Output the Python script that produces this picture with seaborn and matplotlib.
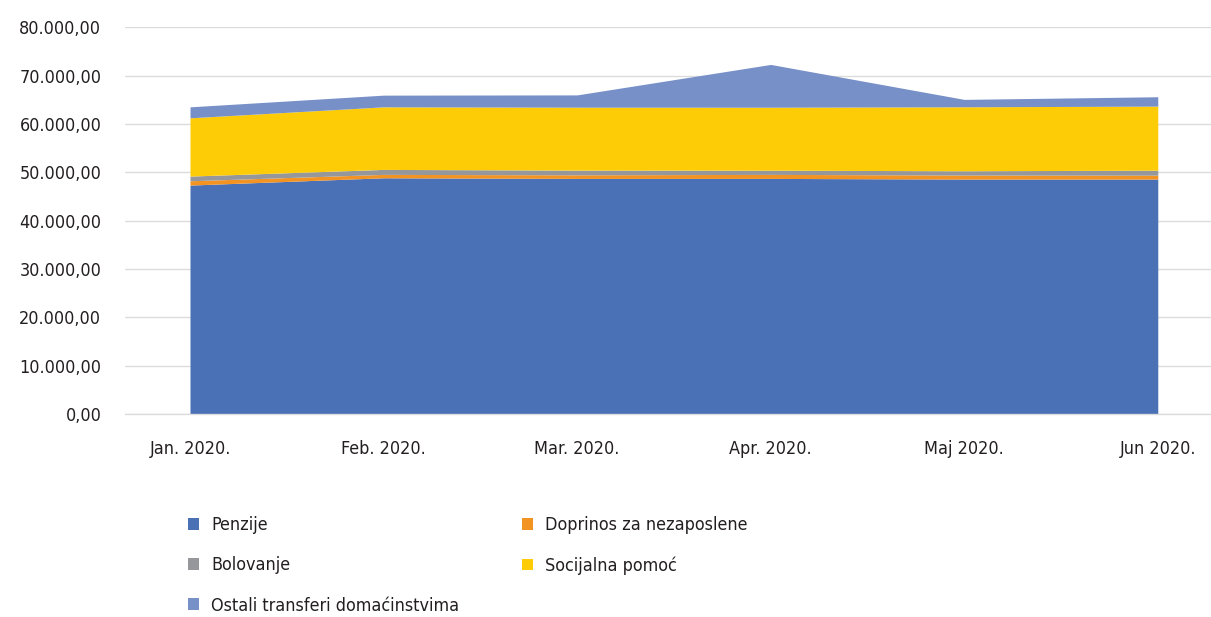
import matplotlib
matplotlib.use("Agg")
import matplotlib.pyplot as plt
from matplotlib.ticker import FuncFormatter, MultipleLocator
from matplotlib.patches import Patch
import seaborn as sns

# Monthly household transfers, stacked
months = ["Jan. 2020.", "Feb. 2020.", "Mar. 2020.", "Apr. 2020.", "Maj 2020.", "Jun 2020."]
penzije = [47340, 48850, 48720, 48720, 48580, 48580]
doprinos = [890, 700, 740, 830, 830, 810]
bolovanje = [970, 1030, 970, 870, 890, 1030]
socijalna = [12050, 12940, 13020, 13020, 13230, 13250]
ostali = [2270, 2420, 2540, 8850, 1530, 1940]

series_names = ["Penzije", "Doprinos za nezaposlene", "Bolovanje",
                "Socijalna pomoć", "Ostali transferi domaćinstvima"]
colors = ["#4A70B6", "#F39322", "#96979A", "#FECC07", "#7890C8"]

sns.set_theme(style="white")
plt.rcParams["font.family"] = ["DejaVu Sans"]
plt.rcParams["font.stretch"] = "condensed"
plt.rcParams["text.color"] = "#231F20"

FS = 12.9

fig = plt.figure(figsize=(12.11, 6.17), dpi=100)
ax = fig.add_axes([0.1032, 0.329, 0.8968, 0.627])

x = list(range(len(months)))
ax.stackplot(x, penzije, doprinos, bolovanje, socijalna, ostali,
             colors=colors, linewidth=0, zorder=2)

ax.set_ylim(0, 80000)
ax.set_xlim(-0.336, 5.275)
ax.yaxis.set_major_locator(MultipleLocator(10000))


def fmt(v, _pos):
    s = f"{v:,.2f}"
    return s.replace(",", "X").replace(".", ",").replace("X", ".")


ax.yaxis.set_major_formatter(FuncFormatter(fmt))
ax.set_xticks(x)
ax.set_xticklabels(months)
ax.grid(axis="y", color="#DCDCDC", linewidth=1.0, zorder=0)
ax.grid(axis="x", visible=False)
for side in ["top", "right", "left"]:
    ax.spines[side].set_visible(False)
ax.spines["bottom"].set_color("#DCDCDC")
ax.spines["bottom"].set_linewidth(1.0)
ax.tick_params(axis="y", length=0, pad=17, labelsize=FS, labelcolor="#231F20")
ax.tick_params(axis="x", length=0, pad=18.5, labelsize=FS, labelcolor="#231F20")

handles = [Patch(facecolor=c, edgecolor="none") for c in colors]
order = [0, 2, 4, 1, 3]
fig.legend([handles[i] for i in order], [series_names[i] for i in order],
           loc="upper left", bbox_to_anchor=(0.155, 0.163), ncol=2,
           frameon=False, fontsize=FS, handlelength=0.62, handleheight=0.62,
           handletextpad=0.7, columnspacing=3.47, labelspacing=1.23,
           borderaxespad=0, borderpad=0)

fig.savefig("out.png", dpi=100)
